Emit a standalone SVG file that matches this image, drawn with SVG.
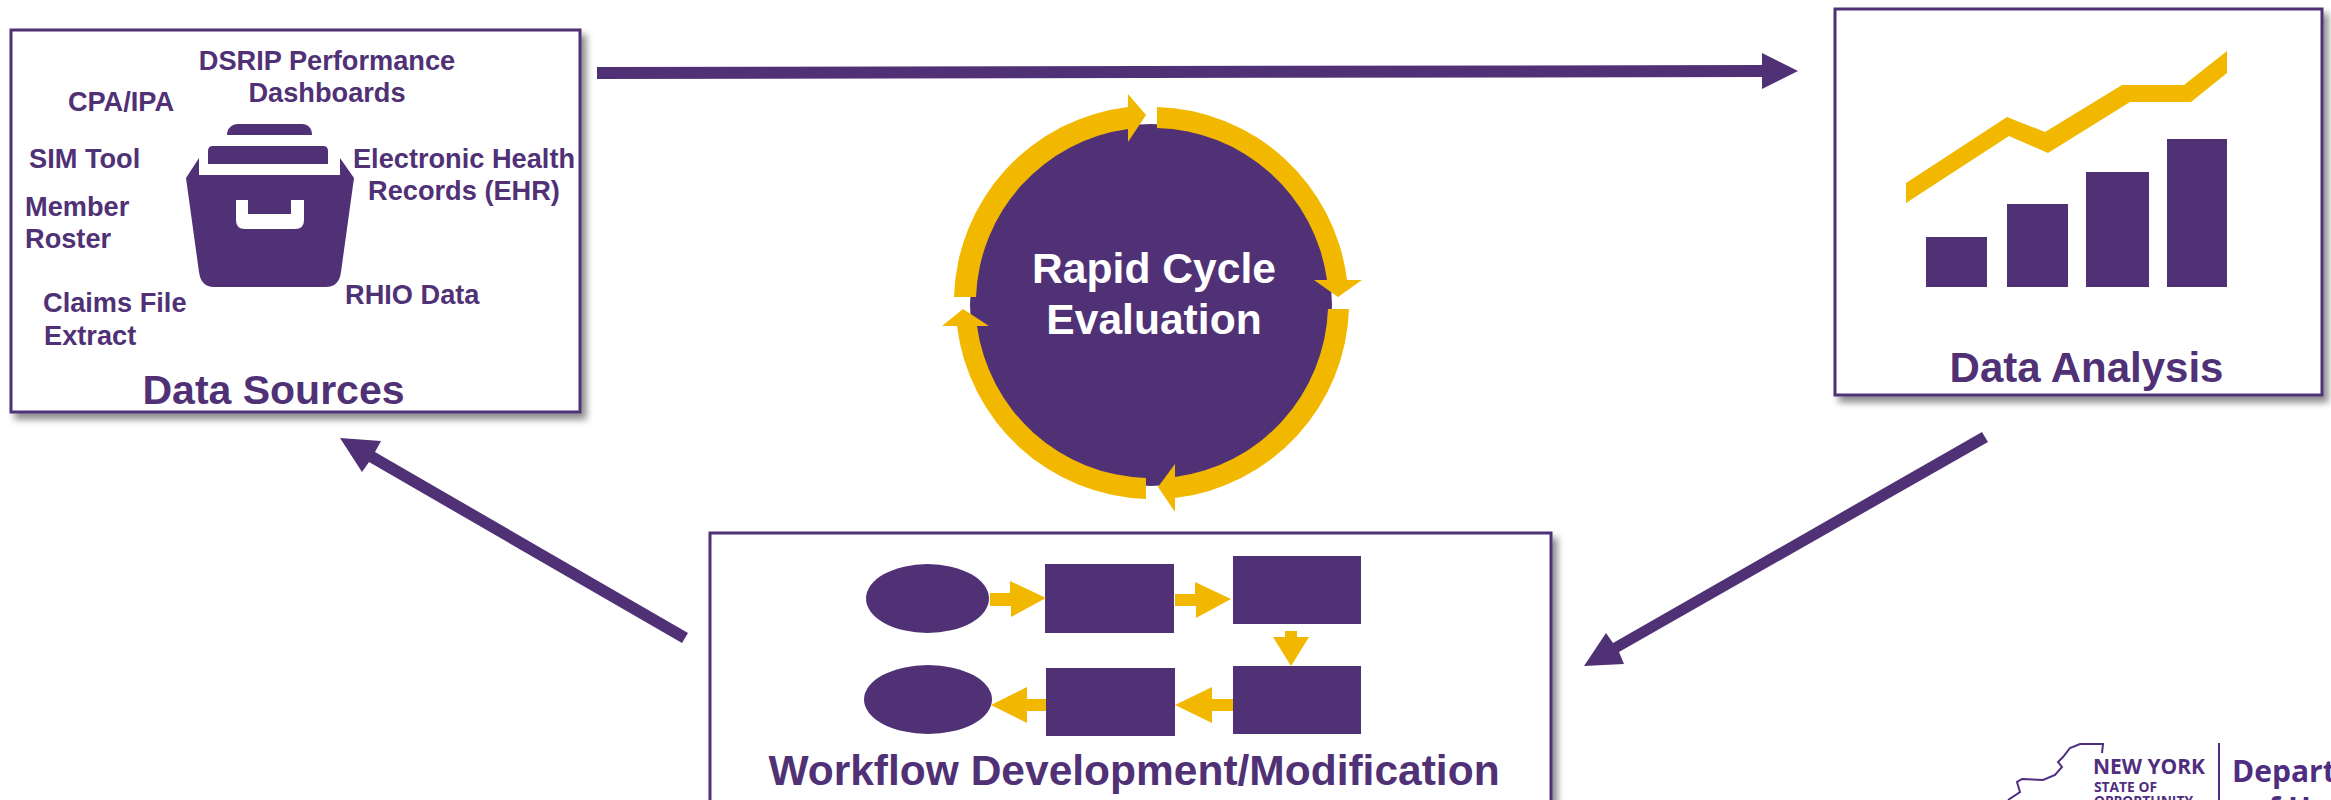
<svg xmlns="http://www.w3.org/2000/svg" width="2331" height="800" viewBox="0 0 2331 800">
<defs>
<style>
text{font-family:"Liberation Sans",Arial,sans-serif;font-weight:700;fill:#503176}
.s{font-size:27.2px}
.m{text-anchor:middle}
.box{fill:#fff;stroke:#503176;stroke-width:3;filter:url(#sh)}
.p{fill:#503176}
.y{fill:#F2B800}
.c{font-size:42.6px;fill:#fff}
.logo{font-family:"Open Sans","Noto Sans",sans-serif;fill:#4F2D7F}
</style>
<filter id="sh" x="-5%" y="-5%" width="112%" height="112%"><feDropShadow dx="5" dy="6" stdDeviation="3.5" flood-color="#000" flood-opacity=".45"/></filter>
</defs>
<rect width="2331" height="800" fill="#fff"/>
<g id="connectors">
<polygon class="p" points="597,67 597,79 1762,77 1762,89 1798,71 1762,53 1762,65"/>
<polygon class="p" points="1982,432 1988,442 1619,652 1624,664 1584,666 1606,633 1613,643"/>
<polygon class="p" points="688,633 682,643 369,462 362,472 340,438 381,441 375,452"/>
</g>
<g id="data-sources">
<rect class="box" x="11" y="30" width="569" height="382"/>
<path class="p" d="M227,135 C227,128 232,124 238,124 L302,124 C308,124 312,128 312,135 Z"/>
<path class="p" d="M208,164 L208,151 Q208,146 213,146 L323,146 Q328,146 328,151 L328,164 Z"/>
<path class="p" d="M199,158 L199,175 L340,175 L340,158 L354,178 L341,272 Q339,287 326,287 L214,287 Q201,287 199,272 L186,178 Z"/>
<path fill="#fff" d="M236,200 L248,200 L248,214 L291,214 L291,200 L304,200 L304,220 Q304,229 295,229 L245,229 Q236,229 236,220 Z"/>
<text class="s m" x="327" y="70">DSRIP Performance</text>
<text class="s m" x="327" y="102">Dashboards</text>
<text class="s m" x="121" y="111">CPA/IPA</text>
<text class="s" x="29" y="168">SIM Tool</text>
<text class="s" x="25" y="216">Member</text>
<text class="s" x="25" y="248">Roster</text>
<text class="s" x="43" y="312">Claims File</text>
<text class="s" x="44" y="345">Extract</text>
<text class="s" x="345" y="304">RHIO Data</text>
<text class="s m" x="464" y="168">Electronic Health</text>
<text class="s m" x="464" y="200">Records (EHR)</text>
<text class="m" x="273.500" y="404" font-size="41">Data Sources</text>
</g>
<g id="rapid-cycle">
<circle class="p" cx="1151" cy="305" r="181"/>
<path class="y" d="M954,297 L976,297 A176,176 0 0 1 1128,129 L1128,142 L1146,115 L1128,94 L1128,107 A197,197 0 0 0 954,297 Z"/>
<path class="y" d="M1157,107 A197,197 0 0 1 1347,280 L1362,280 L1338,297 L1314,280 L1327,280 A176,176 0 0 0 1157,128 Z"/>
<path class="y" d="M1328,309 L1349,309 A197,197 0 0 1 1175,498 L1175,512 L1158,487 L1175,464 L1175,477 A176,176 0 0 0 1328,309 Z"/>
<path class="y" d="M1146,478 L1146,499 A197,197 0 0 1 957,326 L942,326 L963,309 L989,326 L977,326 A176,176 0 0 0 1146,478 Z"/>
<text class="c m" x="1154" y="283">Rapid Cycle</text>
<text class="c m" x="1154" y="334">Evaluation</text>
</g>
<g id="data-analysis">
<rect class="box" x="1835" y="9" width="487" height="386"/>
<polygon class="y" points="1906,183 2007,117 2045,132 2122,85 2184,85 2227,51 2227,73 2191,102 2130,102 2048,153 2009,136 1906,203"/>
<rect class="p" x="1926" y="237" width="61" height="50"/>
<rect class="p" x="2007" y="204" width="61" height="83"/>
<rect class="p" x="2086" y="172" width="63" height="115"/>
<rect class="p" x="2167" y="139" width="60" height="148"/>
<text class="m" x="2086.500" y="382" font-size="42">Data Analysis</text>
</g>
<g id="workflow">
<rect class="box" x="710" y="533" width="841" height="300"/>
<ellipse class="p" cx="927.5" cy="598.5" rx="61.5" ry="34.5"/>
<rect class="p" x="1045" y="564" width="129" height="69"/>
<rect class="p" x="1233" y="556" width="128" height="68"/>
<rect class="p" x="1233" y="666" width="128" height="68"/>
<rect class="p" x="1046" y="668" width="129" height="68"/>
<ellipse class="p" cx="928" cy="699.5" rx="64" ry="34.5"/>
<polygon class="y" points="990,593 1010,593 1010,581 1046,598 1011,617 1011,606 990,606"/>
<polygon class="y" points="1175,594 1195,594 1195,582 1231,599 1196,618 1196,606 1175,606"/>
<polygon class="y" points="1285,631 1297,631 1297,637 1309,637 1291,666 1273,637 1285,637"/>
<polygon class="y" points="1233,699 1212,699 1212,687 1175,705 1212,723 1212,711 1233,711"/>
<polygon class="y" points="1046,699 1027,699 1027,687 991,705 1027,723 1027,711 1046,711"/>
<text class="m" x="1134" y="785" font-size="42.500">Workflow Development/Modification</text>
</g>
<g id="logo">
<polyline fill="none" stroke="#4F2D7F" stroke-width="2" points="2102,753 2103,744 2080,744 2070,748 2063,757 2058,762 2062,767 2055,775 2043,780 2022,779 2017,782 2020,792 2008,800"/>
<text class="logo" x="2093" y="774" font-size="22" font-weight="800" textLength="112" lengthAdjust="spacingAndGlyphs">NEW YORK</text>
<text class="logo" x="2094" y="792" font-size="14" font-weight="600" textLength="63" lengthAdjust="spacingAndGlyphs">STATE OF</text>
<text class="logo" x="2094" y="806" font-size="14" font-weight="600" textLength="99" lengthAdjust="spacingAndGlyphs">OPPORTUNITY</text>
<rect x="2218" y="743" width="2" height="57" fill="#4F2D7F"/>
<text class="logo" x="2232" y="782" font-size="30" font-weight="700">Depart</text>
<text class="logo" x="2250" y="819" font-size="30" font-weight="700">of H</text>
</g>
</svg>
